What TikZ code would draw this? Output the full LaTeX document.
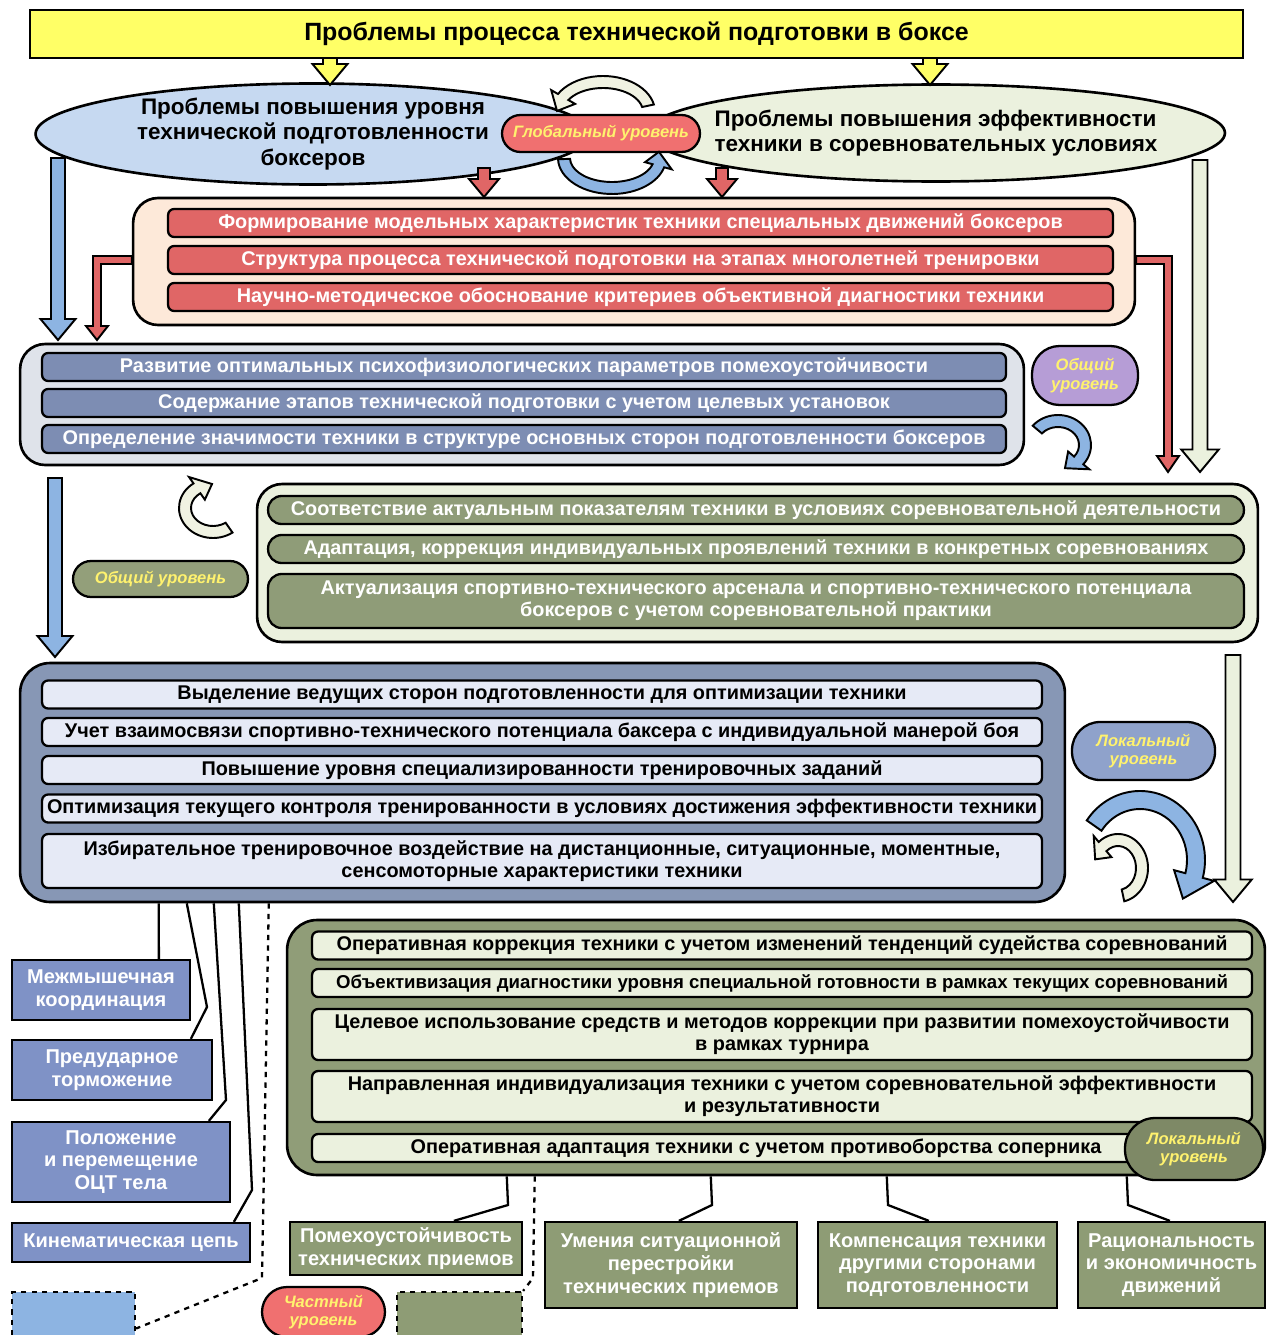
\documentclass[tikz,border=0pt]{standalone}
\usepackage{fontspec}
\setmainfont{Liberation Sans}
\usepackage{xcolor}
\usepackage{tikz}
\usetikzlibrary{shapes.geometric,calc}

\definecolor{titleyellow}{HTML}{FFFF66}
\definecolor{ellblue}{HTML}{C6D9F1}
\definecolor{ellgreen}{HTML}{EBF1DE}
\definecolor{globred}{HTML}{F07070}
\definecolor{arrowcream}{HTML}{F0F2E2}
\definecolor{arrowblue}{HTML}{8DB4E2}
\definecolor{peach}{HTML}{FDE9D9}
\definecolor{barred}{HTML}{E06666}
\definecolor{slatebg}{HTML}{DFE3EA}
\definecolor{slatebar}{HTML}{7D8DB3}
\definecolor{lilac}{HTML}{B69DD6}
\definecolor{olivebar}{HTML}{8F9C78}
\definecolor{olivelabel}{HTML}{939F7A}
\definecolor{slatedark}{HTML}{8797B5}
\definecolor{lightbar}{HTML}{E6EAF6}
\definecolor{lokblue}{HTML}{8FA2CB}
\definecolor{olivedark}{HTML}{909D78}
\definecolor{lokolive}{HTML}{7E8966}
\definecolor{sideblue}{HTML}{7F92C6}
\definecolor{resgreen}{HTML}{8E9C75}
\definecolor{lvltext}{HTML}{FFF26E}

% straight block arrow pointing down: x, top, bottom, shaft half width, fill
\newcommand{\blockdown}[5]{%
  \filldraw[fill=#5, line width=1.1pt] ({#1-#4},#2) -- ({#1-#4},{#3-3*#4}) -- ({#1-2.5*#4},{#3-3*#4})
    -- (#1,#3) -- ({#1+2.5*#4},{#3-3*#4}) -- ({#1+#4},{#3-3*#4}) -- ({#1+#4},#2) -- cycle;}

% curved block arrow: cx, cy, x radius, y radius, start, end, tip angle, fill, half width
\newcommand{\bendarrow}[9]{%
  \filldraw[fill=#8, line width=1.1pt, shift={(#1,#2)}]
    (#5:#3+#9 and #4+#9) arc[start angle=#5, end angle=#6, x radius=#3+#9, y radius=#4+#9]
    -- (#6:#3+2.3*#9 and #4+2.3*#9) -- (#7:#3 and #4) -- (#6:#3-2.3*#9 and #4-2.3*#9)
    -- (#6:#3-#9 and #4-#9) arc[start angle=#6, end angle=#5, x radius=#3-#9, y radius=#4-#9] -- cycle;}

\begin{document}
\begin{tikzpicture}[x=0.02cm, y=-0.02cm,
  box/.style={draw=black, line width=1.3pt, inner sep=2pt, align=center},
  group/.style={draw=black, line width=1.5pt, rounded corners=0.5cm},
  headline/.style={box, fill=titleyellow, minimum width=24.26cm, minimum height=0.96cm,
    font=\bfseries\fontsize{14.2}{16}\selectfont},
  problem/.style={ellipse, draw=black, line width=1.5pt, inner sep=0pt, align=center,
    minimum height=1.94cm, font=\bfseries\fontsize{12.8}{14.3}\selectfont},
  level/.style={box, inner sep=1pt, text=lvltext, font=\bfseries\itshape\fontsize{9.4}{10.5}\selectfont},
  barfont/.style={font=\bfseries\fontsize{11.3}{12.6}\selectfont},
  redbar/.style={box, barfont, fill=barred, text=white, rounded corners=0.12cm, minimum width=18.9cm,
    minimum height=0.56cm},
  slatebox/.style={box, barfont, fill=slatebar, text=white, rounded corners=0.12cm, minimum width=19.28cm,
    minimum height=0.56cm},
  olivebox/.style={box, barfont, fill=olivebar, text=white, rounded corners=0.27cm, minimum width=19.52cm,
    minimum height=0.56cm},
  lightbox/.style={box, barfont, fill=lightbar, rounded corners=0.12cm, minimum width=20cm,
    minimum height=0.56cm},
  greenbox/.style={box, barfont, fill=ellgreen, rounded corners=0.12cm, minimum width=18.8cm,
    minimum height=0.56cm},
  sidebox/.style={box, fill=sideblue, text=white, font=\bfseries\fontsize{11.4}{12.8}\selectfont},
  resbox/.style={box, fill=resgreen, text=white, font=\bfseries\fontsize{11.4}{13}\selectfont},
  link/.style={draw=black, line width=1.3pt},
  dashlink/.style={draw=black, line width=1.3pt, dashed}]

\useasboundingbox (0,0) rectangle (1269,1335);

% top
\node[headline] (title) at (636.5,34) {Проблемы процесса технической подготовки в боксе};

\node[problem, fill=ellblue, minimum width=11.1cm] (techprob) at (313,134)
  {Проблемы повышения уровня\\технической подготовленности\\боксеров};
\node[problem, fill=ellgreen, minimum width=11.56cm, inner xsep=-10pt, align=left] (effprob) at (936,133)
  {Проблемы повышения эффективности\\техники в соревновательных условиях};

\blockdown{330}{58}{85}{7}{titleyellow}
\blockdown{930}{58}{85}{7}{titleyellow}

\node[level, fill=globred, rounded corners=0.37cm, minimum width=3.96cm, minimum height=0.74cm]
  (global) at (601,133.5) {Глобальный уровень};
\bendarrow{603}{112}{46}{30}{-12}{-150}{-178}{arrowcream}{6}
\bendarrow{612}{158}{48}{30}{178}{15}{-12}{arrowblue}{6}

\blockdown{484}{168}{197}{6}{barred}
\blockdown{722}{168}{197}{6}{barred}

% model characteristics
\node[group, fill=peach, minimum width=20.04cm, minimum height=2.54cm] (model) at (634,261.5) {};
\node[redbar] (m1) at (640.5,223) {Формирование модельных характеристик техники специальных движений боксеров};
\node[redbar] (m2) at (640.5,260) {Структура процесса технической подготовки на этапах многолетней тренировки};
\node[redbar] (m3) at (640.5,297) {Научно-методическое обоснование критериев объективной диагностики техники};

\blockdown{58}{158}{340}{7}{arrowblue}
\blockdown{1200}{160}{472}{7.5}{ellgreen}
\filldraw[fill=barred, line width=1.1pt] (model.west |- 0,256) -- (93,256) -- (93,326) -- (86,326)
  -- (97,340) -- (108,326) -- (101,326) -- (101,264) -- (model.west |- 0,264) -- cycle;
\filldraw[fill=barred, line width=1.1pt] (model.east |- 0,256) -- (1172,256) -- (1172,456) -- (1179,456)
  -- (1168,472) -- (1157,456) -- (1164,456) -- (1164,264) -- (model.east |- 0,264) -- cycle;

% general level
\node[group, fill=slatebg, minimum width=20.08cm, minimum height=2.42cm] (general) at (522,404.5) {};
\node[slatebox] (s1) at (524,367) {Развитие оптимальных психофизиологических параметров помехоустойчивости};
\node[slatebox] (s2) at (524,403) {Содержание этапов технической подготовки с учетом целевых установок};
\node[slatebox] (s3) at (524,439) {Определение значимости техники в структуре основных сторон подготовленности боксеров};

\node[level, fill=lilac, rounded corners=0.55cm, minimum width=2.12cm, minimum height=1.18cm]
  (genlvl) at (1085,375.5) {Общий\\уровень};
\bendarrow{1058}{445}{27}{24}{-140}{40}{75}{arrowblue}{6}

\blockdown{55}{478}{657}{7}{arrowblue}
\bendarrow{213}{508}{28}{24}{55}{235}{268}{arrowcream}{6}
\node[level, fill=olivelabel, rounded corners=0.36cm, minimum width=3.5cm, minimum height=0.72cm]
  (genlvl2) at (160.5,579) {Общий уровень};

% competition
\node[group, fill=ellgreen, minimum width=20.02cm, minimum height=3.16cm] (compet) at (757.5,563) {};
\node[olivebox] (c1) at (756,510) {Соответствие актуальным показателям техники в условиях соревновательной деятельности};
\node[olivebox] (c2) at (756,549) {Адаптация, коррекция индивидуальных проявлений техники в конкретных соревнованиях};
\node[olivebox, minimum height=1.08cm] (c3) at (756,601)
  {Актуализация спортивно-технического арсенала и спортивно-технического потенциала\\боксеров с учетом соревновательной практики};

\blockdown{1233}{655}{902}{7.5}{ellgreen}

% local level, training
\node[group, fill=slatedark, rounded corners=0.6cm, minimum width=20.9cm, minimum height=4.78cm] (train) at (542.5,782.5) {};
\node[lightbox] (t1) at (542,694.5) {Выделение ведущих сторон подготовленности для оптимизации техники};
\node[lightbox] (t2) at (542,732) {Учет взаимосвязи спортивно-технического потенциала баксера с индивидуальной манерой боя};
\node[lightbox] (t3) at (542,770) {Повышение уровня специализированности тренировочных заданий};
\node[lightbox] (t4) at (542,808.5) {Оптимизация текущего контроля тренированности в условиях достижения эффективности техники};
\node[lightbox, minimum height=1.08cm] (t5) at (542,861)
  {Избирательное тренировочное воздействие на дистанционные, ситуационные, моментные,\\сенсомоторные характеристики техники};

\node[level, fill=lokblue, rounded corners=0.56cm, minimum width=2.86cm, minimum height=1.16cm]
  (loclvl) at (1143.5,751) {Локальный\\уровень};
\bendarrow{1140}{860}{56}{60}{-145}{15}{40}{arrowblue}{9}
\bendarrow{1118}{868}{24}{28}{78}{-130}{-162}{arrowcream}{6}

% local level, tournament
\node[group, fill=olivedark, rounded corners=0.6cm, minimum width=19.56cm, minimum height=5.1cm] (tourn) at (776,1047.5) {};
\node[greenbox] (g1) at (782,945.5) {Оперативная коррекция техники с учетом изменений тенденций судейства соревнований};
\node[greenbox, font=\bfseries\fontsize{10.6}{12.6}\selectfont] (g2) at (782,983) {Объективизация диагностики уровня специальной готовности в рамках текущих соревнований};
\node[greenbox, minimum height=1.02cm] (g3) at (782,1034.5)
  {Целевое использование средств и методов коррекции при развитии помехоустойчивости\\в рамках турнира};
\node[greenbox, minimum height=1.02cm] (g4) at (782,1096.5)
  {Направленная индивидуализация техники с учетом соревновательной эффективности\\и результативности};
\node[greenbox, minimum width=17.76cm] (g5) at (756,1148) {Оперативная адаптация техники с учетом противоборства соперника};

% particular level
\node[sidebox, minimum width=3.56cm, minimum height=1.2cm] (mezh) at (101,990) {Межмышечная\\координация};
\node[sidebox, minimum width=4cm, minimum height=1.2cm] (pred) at (112,1070) {Предударное\\торможение};
\node[sidebox, minimum width=4.36cm, minimum height=1.6cm] (polo) at (121,1162) {Положение\\и перемещение\\ОЦТ тела};
\node[sidebox, minimum width=4.76cm, minimum height=0.78cm] (kine) at (131,1242.5) {Кинематическая цепь};

\node[resbox, minimum width=4.64cm, minimum height=1.06cm] (pomeh) at (406,1248.5) {Помехоустойчивость\\технических приемов};
\node[resbox, minimum width=5.04cm, minimum height=1.72cm] (umen) at (671,1265) {Умения ситуационной\\перестройки\\технических приемов};
\node[resbox, minimum width=4.78cm, minimum height=1.72cm] (komp) at (937.5,1265) {Компенсация техники\\другими сторонами\\подготовленности};
\node[resbox, minimum width=3.74cm, minimum height=1.72cm] (rats) at (1171.5,1265) {Рациональность\\и экономичность\\движений};

\node[box, fill=arrowblue, dashed, minimum width=2.46cm, minimum height=1.06cm] (legblue) at (73.5,1318.5) {};
\node[level, fill=globred, rounded corners=0.5cm, minimum width=2.46cm, minimum height=1cm]
  (partlvl) at (323.5,1312) {Частный\\уровень};
\node[box, fill=resgreen, dashed, minimum width=2.5cm, minimum height=1.06cm] (leggreen) at (459.5,1318.5) {};

\draw[link] ($(train.south west)+(140,0)$) -- ($(mezh.north west)+(148,0)$);
\draw[link] ($(train.south west)+(168,0)$) -- (207,1007) -- ($(pred.north west)+(180,0)$);
\draw[link] ($(train.south west)+(195,0)$) -- (226,1100) -- ($(polo.north west)+(198,0)$);
\draw[link] ($(train.south west)+(220,0)$) -- (252,1190) -- ($(kine.north west)+(223,0)$);
\draw[dashlink] ($(train.south west)+(250,0)$) -- (262,1278) -- ($(legblue.east)+(0,10)$);

\draw[link] ($(tourn.south west)+(221,0)$) -- (508,1205) -- ($(pomeh.north west)+(165,0)$);
\draw[dashlink] ($(tourn.south west)+(249,0)$) -- (533,1278) -- (leggreen.north east);
\draw[link] ($(tourn.south west)+(425,0)$) -- (712,1205) -- ($(umen.north west)+(135,0)$);
\draw[link] ($(tourn.south west)+(601,0)$) -- (888,1205) -- ($(komp.north west)+(112,0)$);
\draw[link] ($(tourn.south west)+(841,0)$) -- (1128,1205) -- ($(rats.north west)+(93,0)$);

\node[level, fill=lokolive, rounded corners=0.6cm, minimum width=2.76cm, minimum height=1.24cm]
  (loclvl2) at (1194,1149) {Локальный\\уровень};
\end{tikzpicture}
\end{document}
